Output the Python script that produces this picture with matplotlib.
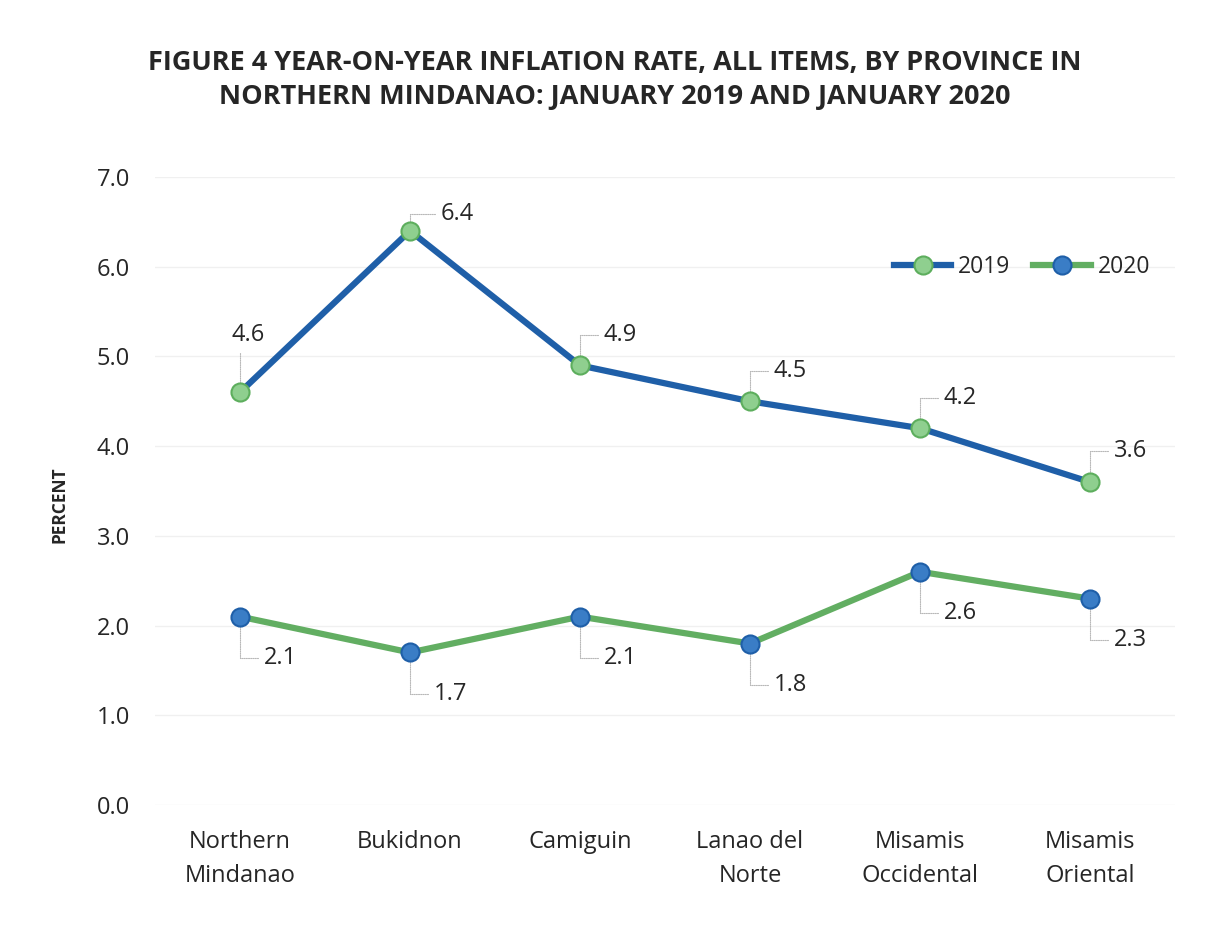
import matplotlib
matplotlib.use('Agg')
from matplotlib import pyplot as plt

provincias = ['Northern\nMindanao', 'Bukidnon', 'Camiguin', 'Lanao del\nNorte',
              'Misamis\nOccidental', 'Misamis\nOriental']
inflacao_2019 = [4.6, 6.4, 4.9, 4.5, 4.2, 3.6]
inflacao_2020 = [2.1, 1.7, 2.1, 1.8, 2.6, 2.3]
anos = ['2019', '2020']

# deslocamento dos rotulos (pontos)
desloc_2019 = [(6, 41), (34, 12), (29, 22), (29, 22), (29, 22), (29, 22)]
desloc_2020 = [(29, -30)] * 6

azul = '#1F5FA8'
verde = '#62AE62'

plt.rcParams['font.family'] = ['Open Sans', 'DejaVu Sans']
plt.rcParams['text.color'] = '#262626'

fig = plt.figure(figsize=(12.17, 9.47), dpi=100)
ax = fig.add_axes([155 / 1217, 1 - 805 / 947, 1020 / 1217, 628 / 947])

x = list(range(len(provincias)))
ax.plot(x, inflacao_2019, color=azul, lw=4.5, marker='o', markersize=13,
        markerfacecolor='#8FCF8F', markeredgecolor='#5DAE5D', markeredgewidth=1.5,
        label=anos[0], zorder=3)
ax.plot(x, inflacao_2020, color=verde, lw=4.5, marker='o', markersize=13,
        markerfacecolor='#3A7DC6', markeredgecolor='#1F5FA8', markeredgewidth=1.5,
        label=anos[1], zorder=3)

for serie, desloc in ((inflacao_2019, desloc_2019), (inflacao_2020, desloc_2020)):
    for i, v in enumerate(serie):
        ax.annotate(f'{v:.1f}', xy=(i, v), xytext=desloc[i], textcoords='offset points',
                    ha='center', va='center', fontsize=17, zorder=2,
                    arrowprops=dict(arrowstyle='-', color='#B8B8B8', lw=0.8,
                                    linestyle=(0, (1, 1)), shrinkA=2, shrinkB=0,
                                    connectionstyle='angle,angleA=0,angleB=90,rad=0'))

ax.set_xlim(-0.5, 5.5)
ax.set_ylim(0, 7)
ax.set_yticks([0, 1, 2, 3, 4, 5, 6, 7])
ax.set_yticklabels([f'{t:.1f}' for t in range(8)])
ax.set_xticks(x)
ax.set_xticklabels(provincias, linespacing=1.55)
ax.tick_params(axis='both', length=0, labelsize=17, colors='#262626')
ax.tick_params(axis='y', pad=18)
ax.tick_params(axis='x', pad=18)
ax.grid(axis='y', color='#F0F0F0', lw=1)
ax.set_axisbelow(True)
for s in ax.spines.values():
    s.set_visible(False)

fig.text(60 / 1217, 1 - 505 / 947, 'PERCENT', rotation=90, ha='center', va='center',
         fontsize=12.5, fontweight='bold')

fig.suptitle('FIGURE 4 YEAR-ON-YEAR INFLATION RATE, ALL ITEMS, BY PROVINCE IN\n'
             'NORTHERN MINDANAO: JANUARY 2019 AND JANUARY 2020',
             x=615 / 1217, y=1 - 50 / 947, va='top', fontsize=19.5, fontweight='bold',
             linespacing=1.38)

ax.legend(loc='center', bbox_to_anchor=(1022 / 1217, 1 - 267 / 947),
          bbox_transform=fig.transFigure, ncol=2, frameon=False, fontsize=16.5,
          handlelength=2.5, handletextpad=0.3, columnspacing=1.0)

fig.savefig('out.png', dpi=100, facecolor='white')
plt.close()
